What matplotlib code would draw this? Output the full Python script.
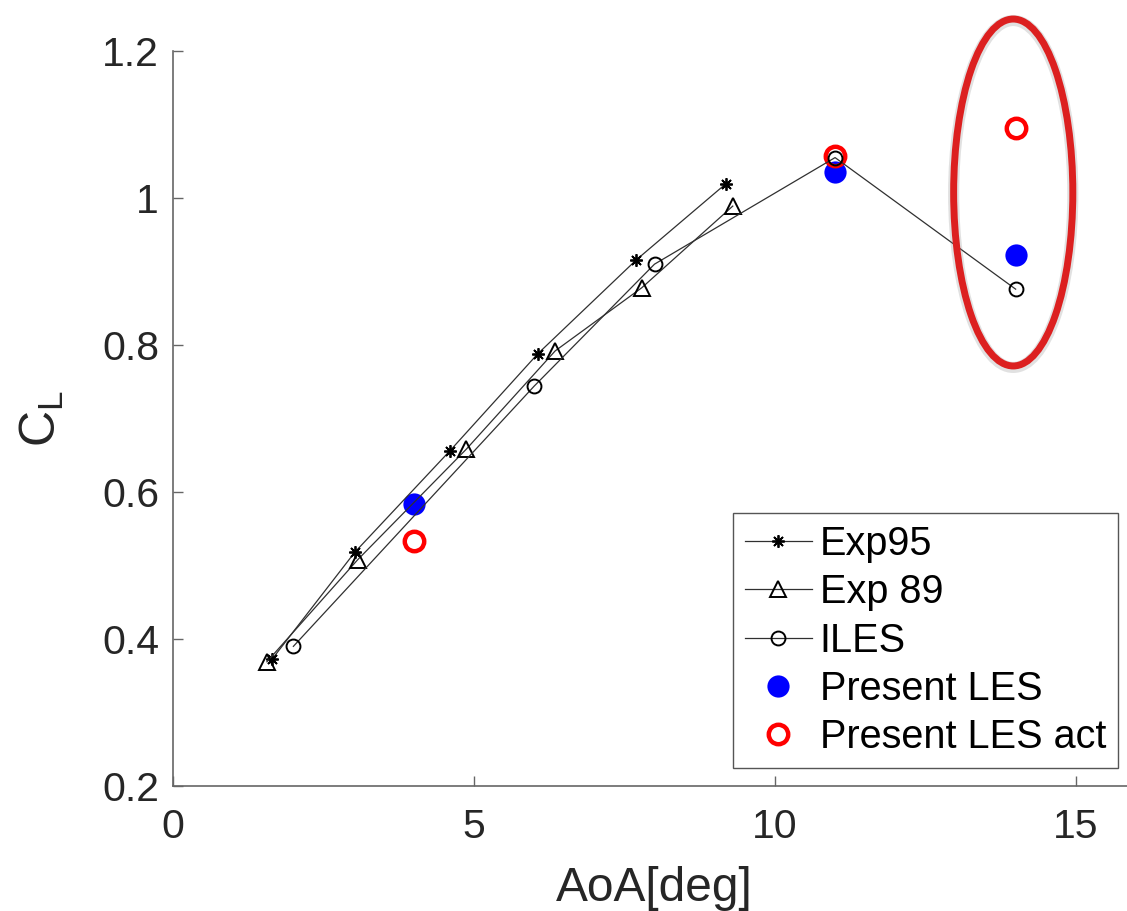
import numpy as np
import matplotlib
matplotlib.use('Agg')
import matplotlib.pyplot as plt
from matplotlib.patches import Ellipse

plt.rcParams['font.family'] = ['Liberation Sans', 'DejaVu Sans']
plt.rcParams['mathtext.fontset'] = 'custom'
plt.rcParams['mathtext.rm'] = 'Liberation Sans'
plt.rcParams['mathtext.it'] = 'Liberation Sans'

# data
exp95_aoa = [1.65, 3.02, 4.6, 6.06, 7.7, 9.18]
exp95_cl = [0.373, 0.518, 0.656, 0.788, 0.916, 1.019]

exp89_aoa = [1.56, 3.07, 4.87, 6.35, 7.79, 9.3]
exp89_cl = [0.369, 0.508, 0.658, 0.792, 0.878, 0.989]

iles_aoa = [2.0, 6.0, 8.0, 11.0, 14.0]
iles_cl = [0.390, 0.744, 0.910, 1.055, 0.876]

les_aoa = [4.0, 11.0, 14.0]
les_cl = [0.584, 1.036, 0.923]

les_act_aoa = [4.0, 11.0, 14.0]
les_act_cl = [0.534, 1.057, 1.095]

fig = plt.figure(figsize=(11.27, 9.11), dpi=100)
ax = fig.add_axes([0.1535, 0.1372, 0.8545, 0.8068])

lc = '#303030'
ax.plot(les_aoa, les_cl, 'o', color='blue', markersize=16, markeredgewidth=0,
        label='Present LES', zorder=3)
ax.plot(les_act_aoa, les_act_cl, 'o', markerfacecolor='none', markeredgecolor='red',
        markersize=14, markeredgewidth=3.2, label='Present LES act', zorder=3)
ax.plot(exp95_aoa, exp95_cl, '-', marker=(8, 2, 0), color=lc, lw=0.9,
        markeredgecolor='black', markersize=9, markeredgewidth=1.3, label='Exp95', zorder=4)
ax.plot(exp89_aoa, exp89_cl, '-', marker='^', color=lc, lw=0.9, markerfacecolor='none',
        markeredgecolor='black', markersize=12, markeredgewidth=1.4, label='Exp 89', zorder=4)
ax.plot(iles_aoa, iles_cl, '-', marker='o', color=lc, lw=0.9, markerfacecolor='none',
        markeredgecolor='black', markersize=10, markeredgewidth=1.4, label='ILES', zorder=4)

# hand drawn highlight round AoA = 14
shadow = Ellipse((13.96, 1.0055), 1.98, 0.472, fill=False, edgecolor='#888888',
                 lw=8, alpha=0.25, clip_on=False, zorder=5)
ax.add_patch(shadow)
ring = Ellipse((13.96, 1.0075), 1.98, 0.472, fill=False, edgecolor='#dc2020',
               lw=5, clip_on=False, zorder=6)
ax.add_patch(ring)

ax.set_xlim(0, 16)
ax.set_ylim(0.2, 1.2)
ax.set_xticks([0, 5, 10, 15])
ax.set_yticks([0.2, 0.4, 0.6, 0.8, 1.0, 1.2])
ax.set_yticklabels(['0.2', '0.4', '0.6', '0.8', '1', '1.2'])

for s in ['top', 'right']:
    ax.spines[s].set_visible(False)
for s in ['left', 'bottom']:
    ax.spines[s].set_color('#666666')
    ax.spines[s].set_linewidth(1.2)
ax.tick_params(direction='in', length=7.5, width=1.0, color='#666666',
               labelsize=29.5, labelcolor='#262626')
ax.tick_params(axis='x', pad=16)
ax.tick_params(axis='y', pad=10)

ax.set_xlabel('AoA[deg]', fontsize=34.5, color='#262626', labelpad=14)
ax.set_ylabel(r'C$_\mathrm{L}$', fontsize=36, color='#262626', labelpad=26)

handles, labels = ax.get_legend_handles_labels()
order = [2, 3, 4, 0, 1]
leg = ax.legend([handles[i] for i in order], [labels[i] for i in order],
                loc='lower right', bbox_to_anchor=(0.992, 0.157),
                bbox_transform=fig.transFigure, fontsize=28.5, frameon=True,
                fancybox=False, framealpha=1, edgecolor='#555555',
                handlelength=1.7, handletextpad=0.2, labelspacing=0.26,
                borderpad=0.3, borderaxespad=0)
leg.get_frame().set_linewidth(1.0)

fig.savefig('out.png', dpi=100)
